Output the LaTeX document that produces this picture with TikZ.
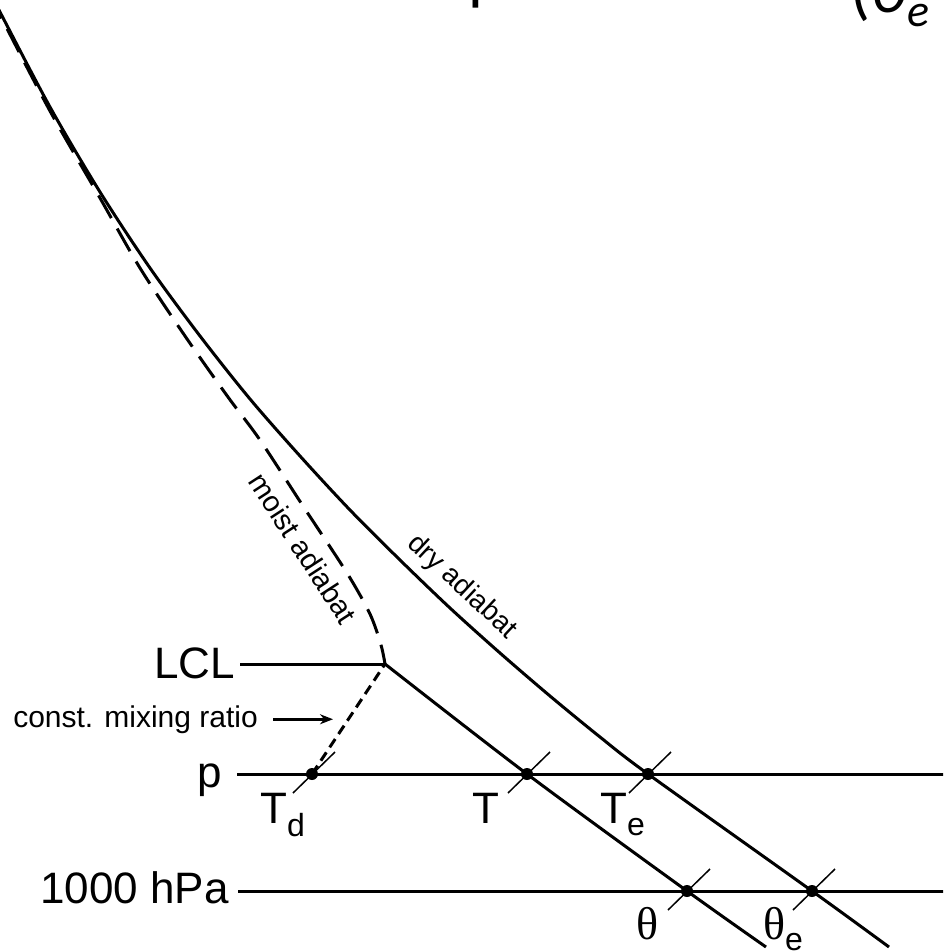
\documentclass[tikz,border=0pt]{standalone}
\usepackage{fontspec}
\setmainfont{Liberation Sans}
\newfontfamily\grk{Liberation Serif}
\newfontfamily\ttl{Carlito}
\usetikzlibrary{arrows.meta}
\newcommand\subfnt{\normalfont\fontsize{32}{36}\selectfont}
\begin{document}
\begin{tikzpicture}[x=1pt,y=-1pt,
  curve/.style={line width=3pt, line join=round},
  moist/.style={curve, dash pattern=on 26pt off 12pt},
  mixline/.style={line width=3pt, dash pattern=on 10pt off 6pt},
  level/.style={line width=3pt},
  tickmark/.style={line width=1.5pt},
  dot/.style={circle, fill=black, inner sep=0pt, minimum size=12pt},
  big/.style={font=\fontsize{44}{50}\selectfont, inner sep=0pt},
  mid/.style={font=\fontsize{30}{34}\selectfont, inner sep=0pt},
  grklab/.style={font=\grk\fontsize{46}{50}\selectfont, inner sep=0pt},
  ttlfrag/.style={font=\ttl\fontsize{66}{70}\selectfont, inner sep=0pt}]
\useasboundingbox (0,0) rectangle (943,951);
\clip (0,0) rectangle (943,951);

% key points
\coordinate (LCL) at (385,664);
\coordinate (Td) at (312,774);
\coordinate (T) at (527,774);
\coordinate (Te) at (648,774);
\coordinate (th) at (687,891);
\coordinate (the) at (812,891);
\coordinate (dEnd) at (766,947);
\coordinate (uEnd) at (889,947);
\coordinate (pR) at (950,774);
\coordinate (kR) at (950,891);
\coordinate (arrTip) at (333,717);

% title fragments (cut off at the top)
\node[ttlfrag, anchor=base west] (ttlA) at (468,-3) {p};
\node[ttlfrag, anchor=base west] (ttlB) at (850,12) {(\textit{θ}\raisebox{-14pt}{\ttl\fontsize{46}{50}\selectfont\textit{e}}};

% labels
\node[big, anchor=base east] (lclL) at (235,678) {LCL};
\node[mid, anchor=base east] (mixL) at (258,727) {const. mixing ratio};
\node[big, anchor=base east] (pL) at (222,787) {p};
\node[big, anchor=base east] (kL) at (229,903) {1000 hPa};
\node[big, anchor=base west] (tdL) at (260,823) {T\raisebox{-13pt}{\subfnt d}};
\node[big, anchor=base east] (tL) at (500,823) {T};
\node[big, anchor=base west] (teL) at (600,823) {T\raisebox{-12pt}{\subfnt e}};
\node[grklab, anchor=base west] (thL) at (636,939) {θ};
\node[grklab, anchor=base west] (theL) at (763,939) {θ\raisebox{-11pt}{\subfnt e}};
\node[rotate=-57, font=\fontsize{29}{34}\selectfont, inner sep=0pt] (moistL) at (303,548) {moist adiabat};
\node[rotate=-43, font=\fontsize{28}{33}\selectfont, inner sep=0pt] (dryL) at (462,587) {dry adiabat};

% horizontal levels
\draw[level] (lclL.east |- LCL) ++(5,0) -- (LCL);
\draw[level] (pL.east |- Td) ++(15,0) -- (pR);
\draw[level] (kL.east |- th) ++(9,0) -- (kR);

% arrow
\draw[line width=2.5pt, -{Stealth[length=13pt,width=10pt]}] (mixL.east) ++(15,0) -- (mixL.east -| arrTip);

% dry adiabat (upper, labelled)
\draw[curve] plot[smooth, tension=0.5] coordinates {(-10,-8) (0,12) (50,107) (100,192) (150,268) (200,336) (250,399) (300,456) (350,510) (400,560) (450,608) (500,653) (550,696) (600,737) (Te) (the) (uEnd)};

% dry adiabat through LCL
\draw[curve] plot[smooth, tension=0.5] coordinates {(LCL) (T) (th) (dEnd)};

% moist adiabat
\draw[moist] plot[smooth, tension=0.5] coordinates {(-10,-5) (0,15) (50,111) (100,198) (140,268) (185,336) (228,397) (260,440) (303,506) (347,573) (370,614) (381,645) (LCL)};

% constant mixing ratio
\draw[mixline] (Td) -- (LCL);

% tick marks
\foreach \n in {Td,T,Te,th,the} \draw[tickmark] (\n) ++(-19,19) -- ++(42,-41);

% dots
\foreach \n in {Td,T,Te,th,the} \node[dot] (\n-dot) at (\n) {};
\end{tikzpicture}
\end{document}
